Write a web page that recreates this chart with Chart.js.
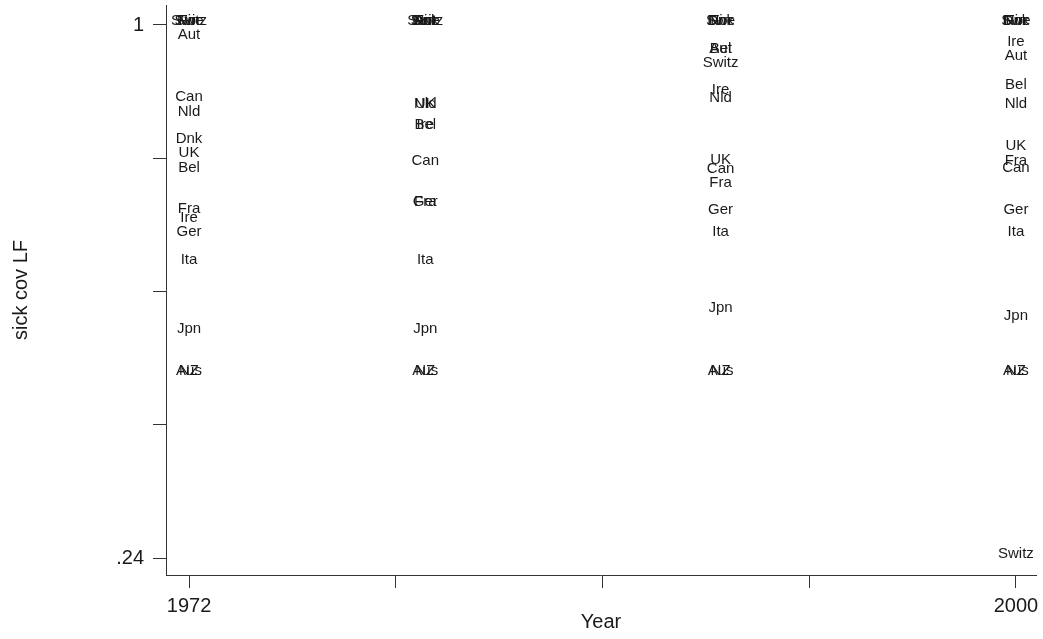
<!DOCTYPE html>
<html lang="en">
<head>
  <meta charset="UTF-8">
  <title>sick cov LF by year</title>
  <script src="https://cdn.jsdelivr.net/npm/chart.js"></script>
  <style>
    * { margin: 0; padding: 0; box-sizing: border-box; }
    body { background: #fff; }
    #wrap { width: 1043px; height: 639px; position: relative; }
  </style>
</head>
<body>
<div id="wrap"><canvas id="sickChart"></canvas></div>

<script>
// country codes and sickness coverage (share of labour force) by year
const countries = ['Swe', 'Nor', 'Fin', 'Dnk', 'Switz', 'Aut', 'Can', 'Nld', 'UK', 'Bel', 'Fra', 'Ire', 'Ger', 'Ita', 'Jpn', 'Aus', 'NZ'];
const years = [1972, 1980, 1990, 2000];
const cov1972 = [1.00, 1.00, 1.00, 0.832, 1.00, 0.980, 0.892, 0.870, 0.812, 0.790, 0.732, 0.720, 0.700, 0.659, 0.561, 0.501, 0.501];
const cov1980 = [1.00, 1.00, 1.00, 1.00, 1.00, 1.00, 0.800, 0.882, 0.882, 0.852, 0.742, 0.852, 0.742, 0.659, 0.561, 0.501, 0.501];
const cov1990 = [1.00, 1.00, 1.00, 1.00, 0.940, 0.960, 0.789, 0.890, 0.802, 0.960, 0.769, 0.902, 0.730, 0.699, 0.591, 0.501, 0.501];
const cov2000 = [1.00, 1.00, 1.00, 1.00, 0.240, 0.950, 0.790, 0.882, 0.822, 0.909, 0.800, 0.970, 0.730, 0.699, 0.579, 0.501, 0.501];

const yTicks = [1, 0.81, 0.62, 0.43, 0.24];
const yTickLabels = ['1', '', '', '', '.24'];
const xTicks = [1972, 1979, 1986, 1993, 2000];
const xTickLabels = ['1972', '', '', '', '2000'];

const allCov = [cov1972, cov1980, cov1990, cov2000];
const points = [];
years.forEach((yr, i) => {
  countries.forEach((c, j) => {
    points.push({ x: yr, y: allCov[i][j], name: c });
  });
});

// draw the country code centred over each (invisible) point
const markerLabels = {
  id: 'markerLabels',
  afterDatasetsDraw(chart) {
    const ctx = chart.ctx;
    const meta = chart.getDatasetMeta(0);
    ctx.save();
    ctx.font = '15px "Liberation Sans", Arial, sans-serif';
    ctx.fillStyle = '#1a1a1a';
    ctx.textAlign = 'center';
    ctx.textBaseline = 'middle';
    meta.data.forEach((el, i) => {
      ctx.fillText(points[i].name, el.x, el.y - 4);
    });
    ctx.restore();
  }
};

Chart.defaults.font.family = '"Liberation Sans", Arial, sans-serif';
Chart.defaults.color = '#1a1a1a';

new Chart(document.getElementById('sickChart'), {
  type: 'scatter',
  data: {
    datasets: [{
      data: points,
      pointRadius: 0,
      pointHoverRadius: 0
    }]
  },
  options: {
    responsive: true,
    maintainAspectRatio: false,
    animation: false,
    events: [],
    layout: { padding: { top: 5, right: 7, left: 0, bottom: 0 } },
    plugins: { legend: { display: false }, tooltip: { enabled: false } },
    scales: {
      x: {
        type: 'linear',
        min: 1971.22,
        max: 2000.68,
        afterBuildTicks: s => { s.ticks = xTicks.map(v => ({ value: v })); },
        afterFit: s => { s.height = 64; s.paddingLeft = 0; s.paddingRight = 0; },
        ticks: {
          font: { size: 20 },
          padding: 6,
          maxRotation: 0,
          autoSkip: false,
          callback: (v, i) => xTickLabels[i]
        },
        grid: { drawOnChartArea: false, drawTicks: true, tickLength: 13, color: '#333', lineWidth: 1 },
        border: { display: true, color: '#333', width: 1 },
        title: { display: true, text: 'Year', font: { size: 20 }, padding: { top: 0, bottom: 5 } }
      },
      y: {
        type: 'linear',
        min: 0.2158,
        max: 1.0285,
        afterBuildTicks: s => { s.ticks = yTicks.map(v => ({ value: v })); },
        afterFit: s => { s.width = 166; s.paddingTop = 0; s.paddingBottom = 0; },
        ticks: {
          font: { size: 20 },
          padding: 9,
          autoSkip: false,
          callback: (v, i) => yTickLabels[i]
        },
        grid: { drawOnChartArea: false, drawTicks: true, tickLength: 13, color: '#333', lineWidth: 1 },
        border: { display: true, color: '#333', width: 1 },
        title: { display: true, text: 'sick cov LF', font: { size: 20 }, padding: { top: 9, bottom: 0 } }
      }
    }
  },
  plugins: [markerLabels]
});
</script>
</body>
</html>
